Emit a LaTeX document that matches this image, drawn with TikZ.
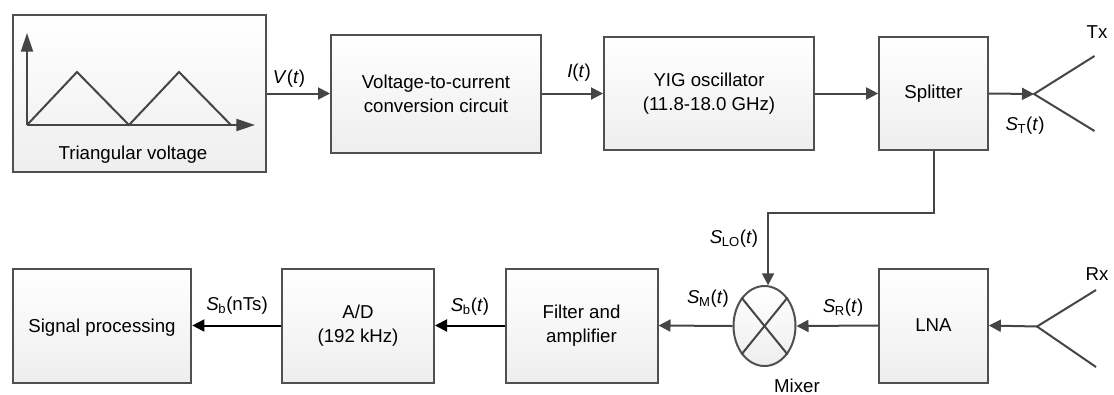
\documentclass[tikz,border=0pt]{standalone}
\usepackage{fontspec}
\setmainfont{Liberation Sans}
\usetikzlibrary{arrows.meta,calc,positioning,shapes.geometric}
\definecolor{BoxLine}{HTML}{505050}
\definecolor{BoxFill}{HTML}{EEEEEE}
\definecolor{WireInk}{HTML}{454545}
\newcommand{\sig}[2]{\textit{S}\kern-0.3pt\textsubscript{#1}(#2)}
\tikzset{
  blockbox/.style={rectangle,draw=BoxLine,line width=1.5pt,top color=white,bottom color=BoxFill,align=center,inner sep=0pt,font=\fontsize{14}{18}\selectfont},
  siglabel/.style={inner sep=0pt,font=\fontsize{14}{18}\selectfont},
  wire/.style={WireInk,line width=1.5pt,-{Triangle[length=9pt,width=9pt]}},
  blackwire/.style={black,line width=1.5pt,-{Triangle[length=9pt,width=9pt]}},
  plainwire/.style={WireInk,line width=1.5pt},
  axisline/.style={WireInk,line width=1.5pt,-{Triangle[length=14pt,width=9pt]}}
}
\begin{document}
\begin{tikzpicture}[x=0.75pt,y=-0.75pt]
    \useasboundingbox (0,0) rectangle (1114,394);
    \node[blockbox,minimum width=189.5pt,minimum height=118pt] (source) at (139.5,93.5) {};
    \node[blockbox,minimum width=157.5pt,minimum height=88.5pt] (converter) at (436,93.5) {Voltage-to-current\\conversion circuit};
    \node[blockbox,minimum width=157.5pt,minimum height=85pt] (yig) at (709,93.5) {YIG oscillator\\(11.8-18.0 GHz)};
    \node[blockbox,minimum width=81.5pt,minimum height=85pt] (splitter) at (933.5,93.5) {Splitter};
    \node[blockbox,minimum width=81.5pt,minimum height=85.5pt] (lna) at (933.5,325.5) {LNA};
    \node[blockbox,minimum width=114pt,minimum height=85.5pt] (filter) at (581.5,325.5) {Filter and\\amplifier};
    \node[blockbox,minimum width=114pt,minimum height=85.5pt] (adc) at (358,325.5) {A/D\\(192 kHz)};
    \node[blockbox,text depth=0pt,minimum width=134pt,minimum height=85.5pt] (dsp) at (102,325.5) {Signal processing};
    \node[ellipse,draw=BoxLine,line width=1.5pt,top color=white,bottom color=BoxFill,minimum width=46.5pt,minimum height=60pt,inner sep=0pt] (mixer) at (764.5,326) {};
    \draw[plainwire] (mixer.51) -- (mixer.231);
    \draw[plainwire] (mixer.129) -- (mixer.309);
    % triangular wave inside the source box
    \coordinate (origin) at (27,125);
    \coordinate (yend) at (27,33);
    \coordinate (xend) at (255,125);
    \draw[axisline] (origin) -- (yend);
    \draw[axisline] (origin) -- (xend);
    \draw[plainwire] (origin) -- (77,72) -- (129,125) -- (179,72) -- (231,125);
    \node[siglabel] (sourcetext) at (133,154.5) {Triangular voltage};
    % antennas
    \coordinate (txfeed) at (1034,94);
    \coordinate (txtop) at (1094.5,56);
    \coordinate (txbot) at (1094.5,131);
    \coordinate (rxfeed) at (1037,326.5);
    \coordinate (rxtop) at (1096,290);
    \coordinate (rxbot) at (1096,367);
    \draw[plainwire] (txtop) -- (txfeed) -- (txbot);
    \draw[plainwire] (rxtop) -- (rxfeed) -- (rxbot);
    % top row
    \draw[wire] (source.east |- converter.west) -- (converter.west);
    \draw[wire] (converter.east) -- (yig.west);
    \draw[wire] (yig.east) -- (splitter.west);
    \draw[wire] (splitter.east) -- (txfeed);
    % bottom row
    \coordinate (bend) at (933.5,212.5);
    \draw[wire] (splitter.south) -- (bend) -| (mixer.85);
    \draw[wire] (rxfeed) -- (lna.east);
    \draw[wire] (lna.west) -- (mixer.east);
    \draw[wire] (mixer.west) -- (filter.east);
    \draw[blackwire] (filter.west) -- (adc.east);
    \draw[blackwire] (adc.west) -- (dsp.east);
    % labels
    \node[siglabel] (vlabel) at (289,79) {\textit{V}(\textit{t})};
    \node[siglabel] (ilabel) at (579,72.5) {\textit{I}(\textit{t})};
    \node[siglabel] (stlabel) at (1025,125.5) {\sig{T}{\textit{t}}};
    \node[siglabel] (txlabel) at (1097,32) {Tx};
    \node[siglabel] (rxlabel) at (1097,274) {Rx};
    \node[siglabel] (mixertext) at (797,385.5) {Mixer};
    \node[siglabel] (slolabel) at (734,238.5) {\sig{LO}{\textit{t}}};
    \node[siglabel] (smlabel) at (708,298.5) {\sig{M}{\textit{t}}};
    \node[siglabel] (srlabel) at (843,307.5) {\sig{R}{\textit{t}}};
    \node[siglabel] (sblabel) at (470,306.5) {\sig{b}{\textit{t}}};
    \node[siglabel] (snlabel) at (237,305.5) {\sig{b}{nTs}};
  \end{tikzpicture}
\end{document}
